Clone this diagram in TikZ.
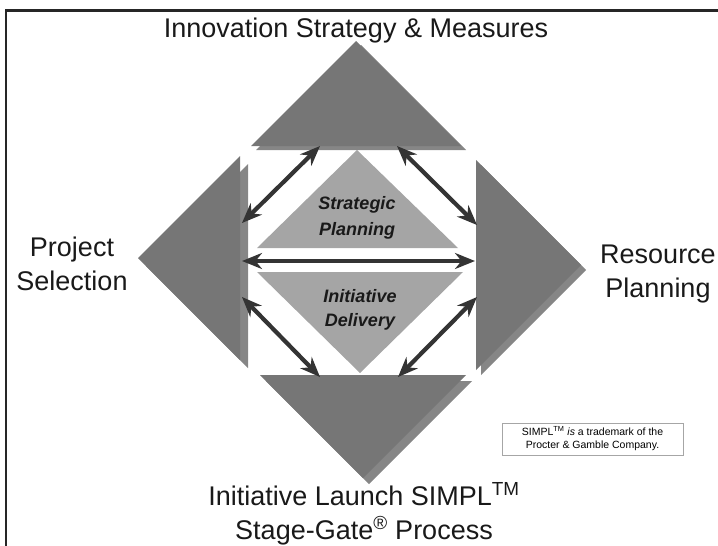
\documentclass[tikz,border=0pt]{standalone}
\usepackage{fontspec}
\setmainfont{Liberation Sans}
\usepackage{tikz}
\usepackage{xcolor}
\usetikzlibrary{arrows.meta,positioning,calc}
\definecolor{outergray}{RGB}{118,118,118}
\definecolor{shadegray}{RGB}{134,134,134}
\definecolor{innergray}{RGB}{165,165,165}
\definecolor{arrowdark}{RGB}{52,52,52}

\tikzset{
  biglabel/.style={font=\fontsize{27}{34}\selectfont, align=center, text=black!90, inner sep=0pt},
  innerlabel/.style={font=\fontsize{18}{25}\selectfont\bfseries\itshape, align=center, text=black!90, inner sep=0pt},
  linkarrow/.style={{Stealth[length=20pt,width=16pt]}-{Stealth[length=20pt,width=16pt]}, line width=4.2pt, arrowdark},
  notebox/.style={draw=black!35, line width=0.8pt, font=\fontsize{10.5}{13}\selectfont, align=center, inner sep=2pt}
}

\begin{document}
\begin{tikzpicture}[x=1pt,y=-1pt]
    \useasboundingbox (0,0) rectangle (718,546);

    % frame (top and left side only)
    \draw[line width=2.7pt, black!85] (6,546) -- (6,10.5) -- (718,10.5);

    % outer triangles: shade first, then the main one
    % top - Innovation Strategy & Measures
    \fill[shadegray] (256,150) -- (466,150) -- (361,45) -- cycle;
    \fill[outergray] (251,146) -- (461,146) -- (356,41) -- cycle;
    % left - Project Selection
    \fill[shadegray] (248,164) -- (248,368) -- (146,266) -- cycle;
    \fill[outergray] (240,156) -- (240,360) -- (138,258) -- cycle;
    % right - Resource Planning
    \fill[shadegray] (481,165) -- (481,375) -- (586,270) -- cycle;
    \fill[outergray] (476,160) -- (476,370) -- (581,265) -- cycle;
    % bottom - Initiative Launch
    \fill[shadegray] (266,381) -- (472,381) -- (369,484) -- cycle;
    \fill[outergray] (260,375) -- (466,375) -- (363,478) -- cycle;

    % inner triangles
    \fill[innergray] (257,248) -- (458,248) -- (357,150) -- cycle;
    \fill[innergray] (257,272) -- (463,272) -- (360,373) -- cycle;

    % labels (base = baseline of the last line)
    \node[biglabel, anchor=base] (strategy) at (356,37) {Innovation Strategy \& Measures};
    \node[biglabel, anchor=base] (selection) at (72,290) {Project\\Selection};
    \node[biglabel, anchor=base] (resource) at (658,297) {Resource\\Planning};
    \node[biglabel, anchor=base] (launch) at (364,539) {Initiative Launch SIMPL\textsuperscript{TM}\\Stage-Gate\textsuperscript{®} Process};
    \node[innerlabel, anchor=base] (planning) at (357,235) {Strategic\\[1pt]Planning};
    \node[innerlabel, anchor=base] (delivery) at (360,326) {Initiative\\[-1pt]Delivery};

    % trademark note
    \node[notebox, minimum width=181pt, minimum height=32pt] (note) at (592.5,439) {SIMPL\textsuperscript{TM} \textit{is} a trademark of the\\Procter \& Gamble Company.};

    % arrow ends
    \coordinate (tl-a) at (242,223);
    \coordinate (tl-b) at (320,146);
    \coordinate (tr-a) at (397,146);
    \coordinate (tr-b) at (477,225);
    \coordinate (bl-a) at (242,297);
    \coordinate (bl-b) at (320,377);
    \coordinate (br-a) at (477,297);
    \coordinate (br-b) at (398,377);
    \coordinate (mid-a) at (242,261);
    \coordinate (mid-b) at (475,261);

    % double arrows
    \draw[linkarrow] (tl-a) -- (tl-b);
    \draw[linkarrow] (tr-a) -- (tr-b);
    \draw[linkarrow] (bl-a) -- (bl-b);
    \draw[linkarrow] (br-a) -- (br-b);
    \draw[linkarrow] (mid-a) -- (mid-b);

\end{tikzpicture}
\end{document}
